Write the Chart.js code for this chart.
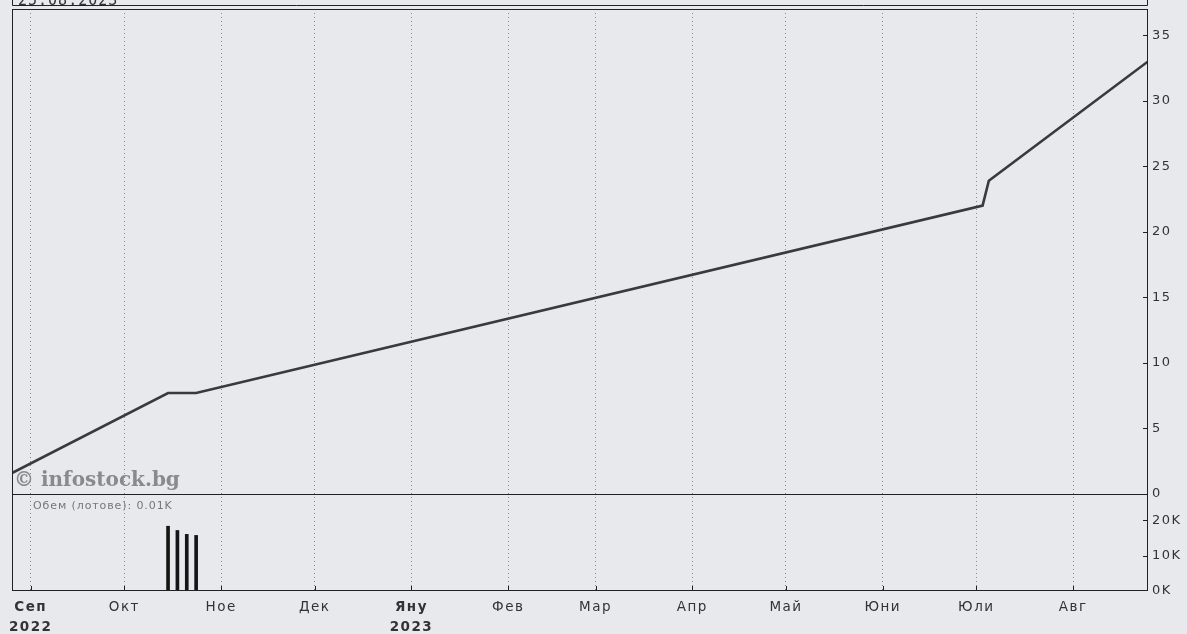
<!DOCTYPE html>
<html><head><meta charset="utf-8">
<script src="https://cdn.jsdelivr.net/npm/chart.js@4.4.1/dist/chart.umd.min.js"></script>
<style>html,body{margin:0;padding:0;background:#e8eaee;overflow:hidden}#c{display:block}</style>
</head><body>
<canvas id="c" width="1187" height="634"></canvas>
<script>
// ---- data ----
const priceDates  = ['2022-08-26','2022-10-15','2022-10-24','2023-07-03','2023-07-05','2023-08-25'];
const priceValues = [1.6, 7.7, 7.7, 22.0, 23.9, 33.0];
const volumeDates  = ['2022-10-15','2022-10-18','2022-10-21','2022-10-24'];
const volumeValues = [18300, 17100, 16000, 15700];
const monthTickDates  = ['2022-09-01','2022-10-01','2022-11-01','2022-12-01','2023-01-01','2023-02-01','2023-03-01','2023-04-01','2023-05-01','2023-06-01','2023-07-01','2023-08-01'];
const monthTickLabels = [['Сеп','2022'],'Окт','Ное','Дек',['Яну','2023'],'Фев','Мар','Апр','Май','Юни','Юли','Авг'];
const boldTickIndexes = [0, 4];
const priceTicks = [0,5,10,15,20,25,30,35];
const volumeTicks = [0,10000,20000];
const volumeTickLabels = ['0K','10K','20K'];
const rangeStart = '2022-08-26', rangeEnd = '2023-08-25';
const headerText = '25.08.2023';
const watermarkText = '© infostock.bg';
const volumeTitle = 'Обем (лотове): 0.01K';

const day = s => { const [y,m,d] = s.split('-').map(Number); return Date.UTC(y,m-1,d)/86400000; };
const priceData = priceDates.map((d,i)=>({x:day(d), y:priceValues[i]}));
const volumeData = volumeDates.map((d,i)=>({x:day(d), y:volumeValues[i]}));
const monthDays = monthTickDates.map(day);

const FONT = 'DejaVu Sans';
const decor = {
  id:'decor',
  beforeInit(chart){ chart.ctx.letterSpacing = '1.5px'; },
  beforeDraw(chart){
    const ctx = chart.ctx;
    ctx.letterSpacing = '1.5px';
    ctx.save(); ctx.fillStyle = '#e7e9ed'; ctx.fillRect(0,0,chart.width,chart.height); ctx.restore();
  },
  beforeDatasetsDraw(chart){
    const {ctx, chartArea:a} = chart;
    ctx.save();
    ctx.letterSpacing = '0px';
    ctx.fillStyle = '#8a8a8a';
    ctx.font = 'bold 20px "DejaVu Serif"';
    ctx.textBaseline = 'alphabetic';
    ctx.fillText(watermarkText, a.left + 2, chart.scales.y.bottom - 8);
    ctx.letterSpacing = '0.9px';
    ctx.fillStyle = '#777';
    ctx.font = '11px "' + FONT + '"';
    ctx.fillText(volumeTitle, a.left + 21, chart.scales.y.bottom + 15);
    ctx.restore();
  },
  afterDraw(chart){
    const {ctx, chartArea:a} = chart;
    const ys = chart.scales.y, yv = chart.scales.yv, xs = chart.scales.x;
    ctx.save();
    ctx.strokeStyle = '#222'; ctx.lineWidth = 1;
    ctx.strokeRect(Math.round(a.left)+0.5, Math.round(a.top)+0.5, Math.round(a.width)-1, Math.round(a.height)-1);
    const dy = Math.round(ys.bottom)+0.5;
    ctx.beginPath(); ctx.moveTo(a.left, dy); ctx.lineTo(a.right, dy); ctx.stroke();
    // inward tick marks
    ctx.beginPath();
    ys.ticks.forEach(t => { if (t.value === 0) return; const p = Math.round(ys.getPixelForValue(t.value))+0.5; ctx.moveTo(a.right-5, p); ctx.lineTo(a.right, p); });
    yv.ticks.forEach(t => { if (t.value === 0) return; const p = Math.round(yv.getPixelForValue(t.value))+0.5; ctx.moveTo(a.right-5, p); ctx.lineTo(a.right, p); });
    xs.ticks.forEach(t => { const p = Math.round(xs.getPixelForValue(t.value))+0.5; ctx.moveTo(p, a.bottom); ctx.lineTo(p, a.bottom-5); });
    ctx.stroke();
    // header box (cut off at top)
    const hb = Math.round(a.top) - 4 + 0.5;
    ctx.beginPath();
    ctx.moveTo(a.left+0.5, 0); ctx.lineTo(a.left+0.5, hb); ctx.lineTo(a.right-0.5, hb); ctx.lineTo(a.right-0.5, 0);
    ctx.stroke();
    ctx.fillStyle = '#333';
    ctx.letterSpacing = '1px';
    ctx.font = '15px "DejaVu Sans Mono"';
    ctx.textBaseline = 'alphabetic';
    ctx.fillText(headerText, a.left + 6, hb - 1);
    ctx.restore();
  }
};

new Chart(document.getElementById('c'), {
  data: {
    datasets: [
      {type:'line', data: priceData, xAxisID:'x', yAxisID:'y', borderColor:'#3a3a3a', borderWidth:2.6, pointRadius:0, tension:0, fill:false},
      {type:'bar', data: volumeData, xAxisID:'x', yAxisID:'yv', backgroundColor:'#151515', borderWidth:0, barThickness:3}
    ]
  },
  options: {
    responsive:false, animation:false, devicePixelRatio:1,
    layout:{padding:{left:12, top:9, right:0, bottom:0}},
    plugins:{legend:{display:false}, tooltip:{enabled:false}},
    scales:{
      x:{type:'linear', position:'bottom', min:day(rangeStart), max:day(rangeEnd), offset:false,
        afterBuildTicks: s => { s.ticks = monthDays.map(v=>({value:v})); },
        afterFit: s => { s.height = 43; s.paddingLeft = 0; s.paddingRight = 0; },
        grid:{display:true, offset:false, color:'#8a8a8a', lineWidth:1, drawTicks:false},
        border:{display:false, dash:[1,3]},
        ticks:{autoSkip:false, maxRotation:0, minRotation:0, padding:6, color:'#333',
          font: ctx => ({family:FONT, size:13.5, lineHeight:1.5, weight: boldTickIndexes.includes(ctx.index) ? 'bold' : 'normal'}),
          callback: (v,i) => monthTickLabels[i]}
      },
      y:{type:'linear', position:'right', stack:'v', stackWeight:485, min:0, max:37,
        afterBuildTicks: s => { s.ticks = priceTicks.map(v=>({value:v})); },
        afterFit: s => { s.width = 39; s.paddingTop = 0; s.paddingBottom = 0; },
        grid:{display:false, drawTicks:false}, border:{display:false},
        ticks:{padding:4, color:'#333', font:{family:FONT, size:13}}
      },
      yv:{type:'linear', position:'right', stack:'v', stackWeight:97, min:0, max:27400,
        afterBuildTicks: s => { s.ticks = volumeTicks.map(v=>({value:v})); },
        afterFit: s => { s.width = 39; s.paddingTop = 0; s.paddingBottom = 0; },
        grid:{display:false, drawTicks:false}, border:{display:false},
        ticks:{padding:4, color:'#333', font:{family:FONT, size:13}, callback:(v,i)=>volumeTickLabels[i]}
      }
    }
  },
  plugins:[decor]
});
</script>
</body></html>
